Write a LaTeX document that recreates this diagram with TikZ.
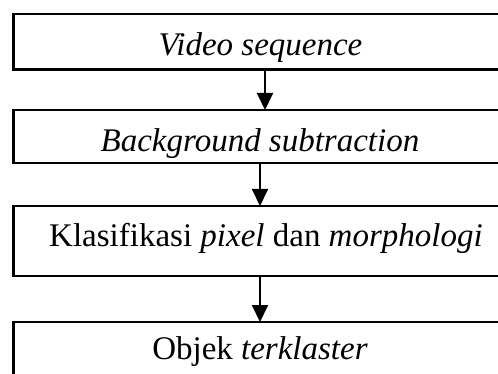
\documentclass[tikz,border=0pt]{standalone}
\usepackage{fontspec}
\setmainfont{Liberation Serif}
\usetikzlibrary{arrows.meta}
\begin{document}
\begin{tikzpicture}[x=1pt,y=-1pt,
  box/.style={draw, line width=2.4pt, rectangle, inner sep=0pt, outer sep=0pt, minimum width=506.5pt},
  lbl/.style={anchor=base, inner sep=0pt, font=\fontsize{33}{40}\selectfont},
  arr/.style={line width=2pt, -{Triangle[width=16pt,length=17pt]}}]
\useasboundingbox (0,0) rectangle (498,374);
\clip (0,0) rectangle (498,374);
\node[box, minimum height=55.2pt] (b1) at (266.75,41.9) {};
\node[box, minimum height=53pt] (b2) at (266.75,136.5) {};
\node[box, minimum height=70pt] (b3) at (266.75,241) {};
\node[box, minimum height=78pt] (b4) at (266.75,361) {};
\node[lbl] (t1) at (260.5,56) {\textit{Video sequence}};
\node[lbl] (t2) at (260,152) {\textit{Background subtraction}};
\node[lbl] (t3) at (266,247) {Klasifikasi \textit{pixel} dan \textit{morphologi}};
\node[lbl] (t4) at (260,359) {Objek \textit{terklaster}};
\coordinate (xa) at (265,0);
\coordinate (xb) at (260,0);
\draw[arr] (b1.south -| xa) -- (b2.north -| xa);
\draw[arr] (b2.south -| xb) -- (b3.north -| xb);
\draw[arr] (b3.south -| xb) -- (b4.north -| xb);
\end{tikzpicture}
\end{document}
